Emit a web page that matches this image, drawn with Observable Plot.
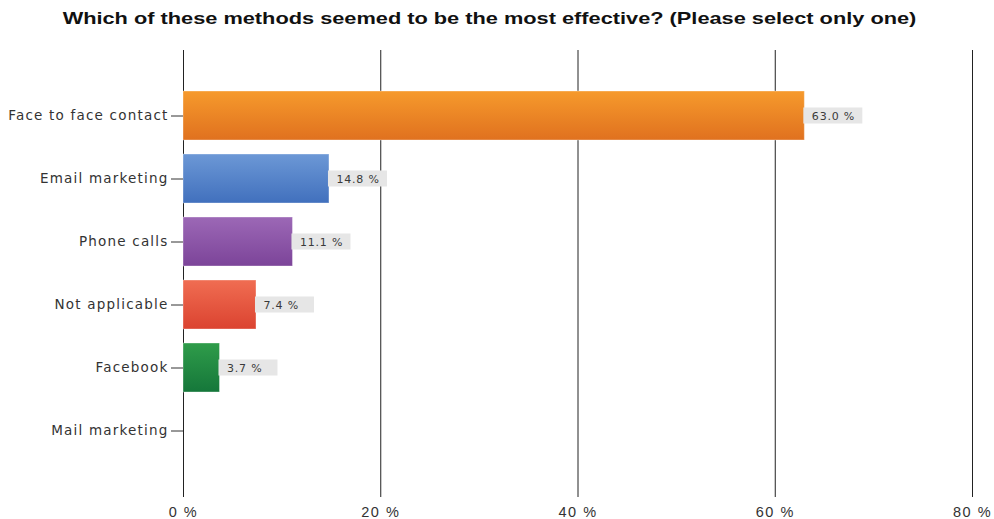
<!DOCTYPE html>
<html>
<head>
<meta charset="utf-8">
<script src="https://cdn.jsdelivr.net/npm/d3@7"></script>
<script src="https://cdn.jsdelivr.net/npm/@observablehq/plot@0.6"></script>
<style>
  html, body { margin: 0; padding: 0; background: #fff; }
  #titlewrap { height: 38px; width: 979px; display: flex; justify-content: center; align-items: center; }
  #title { font-family: "Liberation Sans", Arial, sans-serif; font-weight: bold; font-size: 17px; color: #111; white-space: nowrap; transform: scaleX(1.28); transform-origin: center; }
  #chart svg { display: block; }
  #chart g[aria-label="y-axis tick label"] text { letter-spacing: 1.2px; }
  #chart g[aria-label="x-axis tick label"] text { letter-spacing: 1.5px; }
  #chart g[aria-label="text"] text { letter-spacing: 0.8px; }
</style>
</head>
<body>
<div id="titlewrap"><div id="title">Which of these methods seemed to be the most effective? (Please select only one)</div></div>
<div id="chart"></div>
<script>
const categories = ["Face to face contact", "Email marketing", "Phone calls", "Not applicable", "Facebook", "Mail marketing"];
const values = [63.0, 14.8, 11.1, 7.4, 3.7, 0];
const colorsTop = ["#f69a2c", "#6c98d6", "#9c68b6", "#f06d52", "#2f9c4a"];
const colorsBottom = ["#e0711f", "#4170bd", "#7c4499", "#db4330", "#15773a"];
const xTicks = [0, 20, 40, 60, 80];

const data = categories.map((c, i) => ({ label: c, value: values[i], i }));
const labeled = data.filter(d => d.value > 0);

const defs = () => {
  const g = d3.create("svg:defs");
  colorsTop.forEach((c, i) => {
    const lg = g.append("linearGradient").attr("id", "grad" + i).attr("x1", 0).attr("y1", 0).attr("x2", 0).attr("y2", 1);
    lg.append("stop").attr("offset", "0%").attr("stop-color", c);
    lg.append("stop").attr("offset", "100%").attr("stop-color", colorsBottom[i]);
  });
  return g.node();
};

const chart = Plot.plot({
  width: 994,
  height: 481,
  marginTop: 12,
  marginBottom: 22,
  marginLeft: 183,
  marginRight: 22,
  style: { fontFamily: "DejaVu Sans, Verdana, sans-serif", background: "#fff" },
  x: { domain: [0, 80], ticks: xTicks, tickFormat: d => d + " %", label: null },
  y: { domain: categories, padding: 0.23, insetTop: 25, insetBottom: 26, label: null },
  color: { type: "identity" },
  marks: [
    defs,
    Plot.ruleX(xTicks, { stroke: "#222", strokeWidth: 1 }),
    Plot.barX(data.filter(d => d.value > 0), {
      x: "value", y: "label",
      fill: d => "url(#grad" + d.i + ")",
      stroke: "#ffffff", strokeOpacity: 0.35, strokeWidth: 1
    }),
    Plot.rect(labeled, {
      x1: "value", x2: "value", y: "label",
      insetLeft: -1, insetRight: -58, insetTop: 16.5, insetBottom: 16.5,
      fill: "#e6e6e6"
    }),
    Plot.text(labeled, {
      x: "value", y: "label", text: d => d.value.toFixed(1) + " %",
      dx: 7, textAnchor: "start", fontSize: 11, fill: "#3a3a3a",
      fontFamily: "DejaVu Sans, Verdana, sans-serif"
    }),
    Plot.axisY({ tickSize: 12, tickPadding: 3, fontSize: 13.5, color: "#333", stroke: "#333", label: null }),
    Plot.axisX({ ticks: xTicks, tickSize: 0, tickPadding: 9, tickFormat: d => d + " %", fontSize: 14.5, fontFamily: "Liberation Sans, Arial, sans-serif", color: "#333", label: null })
  ]
});
document.getElementById("chart").appendChild(chart);
</script>
</body>
</html>
